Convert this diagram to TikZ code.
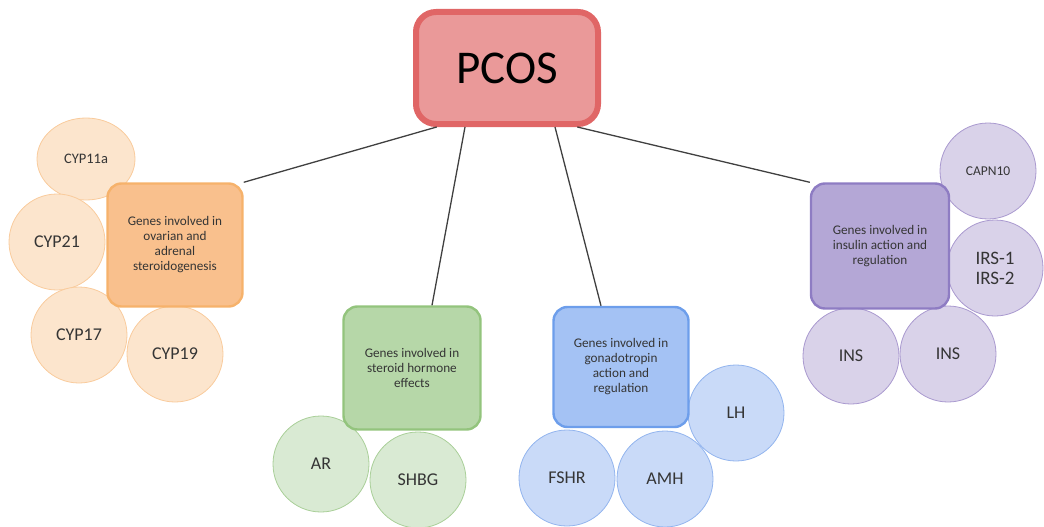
\documentclass[tikz,border=0pt]{standalone}
\usepackage{fontspec}
\setmainfont{Carlito}
\usetikzlibrary{shapes.geometric}
\definecolor{txt}{HTML}{353535}
\definecolor{lnk}{HTML}{404040}
\definecolor{pcF}{HTML}{EA9999}\definecolor{pcD}{HTML}{E06666}
\definecolor{orC}{HTML}{FCE5CD}\definecolor{orCD}{HTML}{F9CB9C}
\definecolor{orB}{HTML}{F9C08D}\definecolor{orBD}{HTML}{F6B26B}
\definecolor{grC}{HTML}{D9EAD3}\definecolor{grCD}{HTML}{A9CF98}
\definecolor{grB}{HTML}{B6D7A8}\definecolor{grBD}{HTML}{93C47D}
\definecolor{blC}{HTML}{C9DAF8}\definecolor{blCD}{HTML}{92B4EE}
\definecolor{blB}{HTML}{A4C2F4}\definecolor{blBD}{HTML}{6D9EEB}
\definecolor{puC}{HTML}{D9D2E9}\definecolor{puCD}{HTML}{A999CF}
\definecolor{puB}{HTML}{B4A7D6}\definecolor{puBD}{HTML}{8E7CC3}
\tikzset{
  gene/.style={circle, minimum size=96pt, inner sep=0pt, line width=0.8pt, text=txt, font=\fontsize{18}{20}\selectfont, align=center},
  group/.style={rounded corners=14pt, minimum width=135pt, minimum height=123pt, line width=2.4pt, text=txt, font=\fontsize{13.2}{15}\selectfont, align=center, inner sep=2pt},
  link/.style={draw=lnk, line width=1.3pt}
}
\begin{document}
\begin{tikzpicture}[x=1pt,y=-1pt]
\useasboundingbox (0,0) rectangle (1044,527);
% circles
\node[gene, ellipse, minimum width=98pt, minimum height=82pt, fill=orC, draw=orCD, font=\fontsize{14.5}{16}\selectfont] (c11) at (86,159) {CYP11a};
\node[gene, fill=orC, draw=orCD] (c21) at (57,242) {CYP21};
\node[gene, fill=orC, draw=orCD] (c17) at (79,335) {CYP17};
\node[gene, fill=orC, draw=orCD] (c19) at (175,354) {CYP19};
\node[gene, fill=grC, draw=grCD] (ar) at (321,464) {AR};
\node[gene, fill=grC, draw=grCD] (shbg) at (418,480) {SHBG};
\node[gene, fill=blC, draw=blCD] (lh) at (736,413) {LH};
\node[gene, fill=blC, draw=blCD] (fshr) at (567,478) {FSHR};
\node[gene, fill=blC, draw=blCD] (amh) at (665,479) {AMH};
\node[gene, fill=puC, draw=puCD, font=\fontsize{13.5}{15}\selectfont] (capn) at (988,171) {CAPN10};
\node[gene, fill=puC, draw=puCD, font=\fontsize{19}{20}\selectfont] (irs) at (995,268) {IRS-1\\IRS-2};
\node[gene, fill=puC, draw=puCD] (ins1) at (851,356) {INS};
\node[gene, fill=puC, draw=puCD] (ins2) at (948,354) {INS};
% group boxes
\node[group, fill=orB, draw=orBD] (ovar) at (175,245) {Genes involved in\\ovarian and\\adrenal\\steroidogenesis};
\node[group, fill=grB, draw=grBD, minimum width=137pt] (ster) at (412,368) {Genes involved in\\steroid hormone\\effects};
\node[group, fill=blB, draw=blBD, minimum width=135pt, minimum height=120pt] (gona) at (621,367) {Genes involved in\\gonadotropin\\action and\\regulation};
\node[group, fill=puB, draw=puBD, minimum width=138pt, minimum height=125pt] (insu) at (880,246) {Genes involved in\\insulin action and\\regulation};
% PCOS
\node[rounded corners=20pt, minimum width=182pt, minimum height=112pt, fill=pcF, draw=pcD, line width=6pt, font=\fontsize{47}{50}\selectfont] (pcos) at (507,68) {PCOS};
% links
\draw[link] (pcos.220) -- (ovar.north east);
\draw[link] ([xshift=-42pt]pcos.south) -- ([xshift=20pt]ster.north);
\draw[link] ([xshift=48pt]pcos.south) -- ([xshift=-20pt]gona.north);
\draw[link] (pcos.-40) -- (insu.north west);
\end{tikzpicture}
\end{document}
